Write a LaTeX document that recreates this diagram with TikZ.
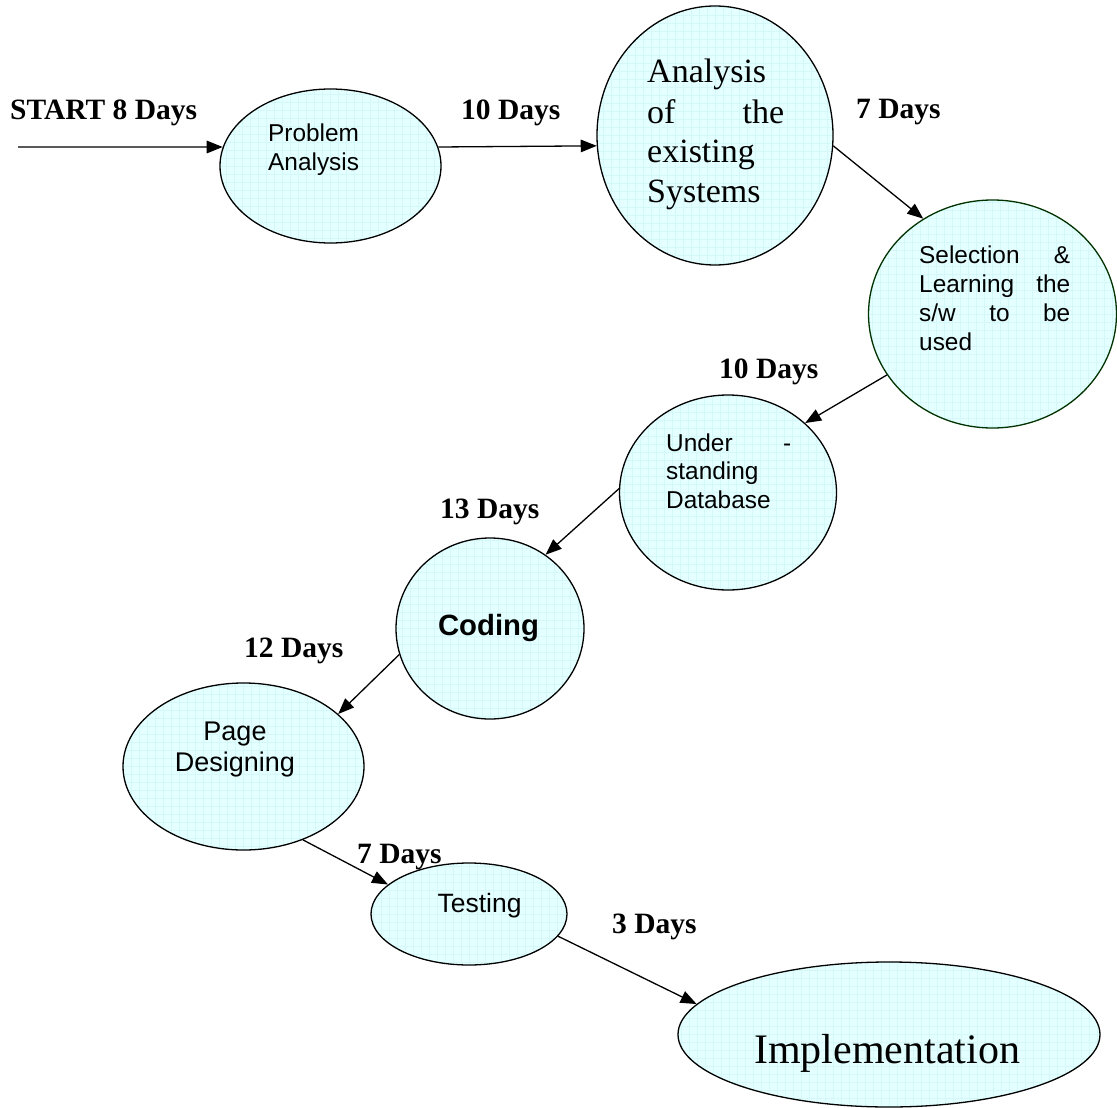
\documentclass[tikz,border=0pt]{standalone}
\usepackage{fontspec}
\setmainfont{Liberation Serif}
\newfontfamily\arialf{Liberation Sans}
\usetikzlibrary{shapes.geometric,arrows.meta}
\definecolor{bubblefill}{RGB}{228,255,255}
\definecolor{gridc}{RGB}{212,247,247}
\definecolor{dkgreen}{RGB}{0,51,0}
\newcommand{\myjline}[2]{\hbox to #1{#2}}
\begin{document}
\begin{tikzpicture}[x=1pt,y=-1pt,
  bubble/.style={ellipse,draw=black,line width=1.3pt,fill=bubblefill,inner sep=0pt,
    path picture={\draw[gridc,line width=0.4pt,step=8pt] (path picture bounding box.south west) grid (path picture bounding box.north east);}},
  daylab/.style={font=\fontsize{29.5}{34}\selectfont\bfseries,anchor=base west,inner sep=0pt},
  atext/.style={font=\arialf\fontsize{24.4}{28.5}\selectfont,anchor=base west,inner sep=0pt},
  ttext/.style={font=\fontsize{34}{40}\selectfont,anchor=base west,inner sep=0pt},
  arr/.style={line width=1.3pt,-{Triangle[length=16pt,width=12.5pt]}},
  ]
\fill[white] (0,0) rectangle (1117,1108);
\useasboundingbox (0,0) rectangle (1117,1108);

% bubbles
\node[bubble,minimum width=221pt,minimum height=154pt] (pa) at (330.5,166) {};
\node[bubble,minimum width=236pt,minimum height=259pt] (ae) at (715,135.5) {};
\node[bubble,draw=dkgreen,minimum width=248pt,minimum height=228pt] (sl) at (992.5,314) {};
\node[bubble,minimum width=217pt,minimum height=195pt] (us) at (728,492.5) {};
\node[bubble,minimum width=188pt,minimum height=181pt] (cd) at (490,628.5) {};
\node[bubble,minimum width=241pt,minimum height=167pt] (pd) at (243.5,766.5) {};
\node[bubble,minimum width=196pt,minimum height=102pt] (ts) at (469,914) {};
\node[bubble,minimum width=422pt,minimum height=145pt] (im) at (889,1034.5) {};

% connectors
\coordinate (st) at (18,147);
\draw[arr] (st) -- (pa.170);
\draw[arr] (pa.10) -- (ae.185.6);
\draw[arr] (ae.-5.6) -- (sl.126);
\draw[arr] (sl.210.3) -- (us.42);
\draw[arr] (us.178.7) -- (cd.53.6);
\draw[arr] (cd.196.9) -- (pd.29);
\draw[arr] (pd.-51.8) -- (ts.160);
\draw[arr] (ts.-14.2) -- (im.171.5);

% day labels
\node[daylab] (l0) at (10,120) {START 8 Days};
\node[daylab] (l1) at (461,120) {10 Days};
\node[daylab] (l2) at (856,118) {7 Days};
\node[daylab] (l3) at (719,378) {10 Days};
\node[daylab] (l4) at (440,518) {13 Days};
\node[daylab] (l5) at (244,657) {12 Days};
\node[daylab] (l6) at (357,863) {7 Days};
\node[daylab] (l7) at (612,933) {3 Days};

% bubble texts
\node[atext] (tpa) at (268,141.7) {\vtop{\hbox{Problem}\hbox{Analysis}}};
\node[ttext] (tae) at (647,83) {\vtop{\myjline{137pt}{Analysis\hfill}\myjline{137pt}{of\hfill the}\myjline{137pt}{existing\hfill}\myjline{137pt}{Systems\hfill}}};
\node[atext,font=\arialf\fontsize{24.4}{29}\selectfont] (tsl) at (919,263) {\vtop{\myjline{151pt}{Selection\hfill \&}\myjline{151pt}{Learning\hfill the}\myjline{151pt}{s/w\hfill to\hfill be}\myjline{151pt}{used\hfill}}};
\node[atext] (tus) at (666,451) {\vtop{\myjline{125pt}{Under\hfill -}\myjline{125pt}{standing\hfill}\myjline{125pt}{Database\hfill}}};
\node[anchor=base,inner sep=0pt,font=\arialf\bfseries\fontsize{29.3}{34}\selectfont] (tcd) at (488.5,635) {Coding};
\node[anchor=base,inner sep=0pt,font=\arialf\fontsize{27}{31}\selectfont] (tpd) at (235,740) {\vtop{\hbox to 140pt{\hfil Page\hfil}\hbox to 140pt{\hfil Designing\hfil}}};
\node[anchor=base,inner sep=0pt,font=\arialf\fontsize{26.5}{31}\selectfont] (tts) at (479.5,912) {Testing};
\node[anchor=base,inner sep=0pt,font=\fontsize{42}{48}\selectfont] (tim) at (887,1063) {Implementation};
\end{tikzpicture}
\end{document}
